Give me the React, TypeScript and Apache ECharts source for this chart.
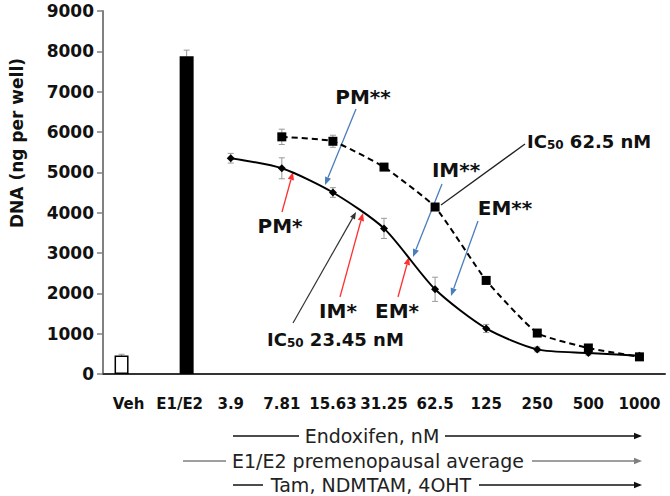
import React, { useEffect, useRef } from "react";
import * as echarts from "echarts";

const categories = ["Veh", "E1/E2", "3.9", "7.81", "15.63", "31.25", "62.5", "125", "250", "500", "1000"];
const vehValue = 460;
const vehError = 30;
const e2Value = 7880;
const e2Error = 150;
// concentrations 3.9 .. 1000
const doseCategories = ["3.9", "7.81", "15.63", "31.25", "62.5", "125", "250", "500", "1000"];
const solidValues = [5350, 5100, 4500, 3610, 2100, 1130, 610, 520, 450];
const solidErrors = [120, 260, 120, 250, 300, 100, 60, 50, 40];
const dashedValues = [null, 5880, 5770, 5130, 4140, 2320, 1015, 645, 425];
const dashedErrors = [0, 190, 150, 60, 80, 80, 50, 40, 40];
const yTicks = { min: 0, max: 9000, interval: 1000 };

const FF = "DejaVu Sans";
const BLUE = "#4a7ebb";
const RED = "#ff3030";

function arrow(x1: number, y1: number, x2: number, y2: number, color: string, head = 8, width = 1.3) {
  const ang = Math.atan2(y2 - y1, x2 - x1);
  const hx = x2 - head * Math.cos(ang);
  const hy = y2 - head * Math.sin(ang);
  const px = -Math.sin(ang) * head * 0.4;
  const py = Math.cos(ang) * head * 0.4;
  return [
    { type: "line", shape: { x1, y1, x2: hx, y2: hy }, style: { stroke: color, lineWidth: width }, silent: true },
    { type: "polygon", shape: { points: [[x2, y2], [hx + px, hy + py], [hx - px, hy - py]] }, style: { fill: color }, silent: true },
  ];
}

function label(text: string, x: number, y: number, size = 20) {
  return {
    type: "text", x, y, silent: true,
    style: { text, fill: "#111", fontFamily: FF, fontWeight: "bold", fontSize: size, align: "center", verticalAlign: "middle" },
  };
}

function icLabel(value: string, x: number, y: number) {
  return {
    type: "text", x, y, silent: true,
    style: {
      text: "{a|IC}{b|50}{a| " + value + "}",
      align: "left", verticalAlign: "middle",
      rich: {
        a: { fontFamily: FF, fontWeight: "bold", fontSize: 18, fill: "#111", lineHeight: 20, verticalAlign: "middle" },
        b: { fontFamily: FF, fontWeight: "bold", fontSize: 12, fill: "#111", lineHeight: 12, verticalAlign: "bottom" },
      },
    },
  };
}

function bottomRow(text: string, y: number, cx: number, l1: number, l2: number, r1: number, lineColor: string) {
  return [
    { type: "line", shape: { x1: l1, y1: y, x2: l2, y2: y }, style: { stroke: lineColor, lineWidth: 1.5 }, silent: true },
    { type: "text", x: cx, y, silent: true, style: { text, fill: "#222", fontFamily: FF, fontSize: 19, align: "center", verticalAlign: "middle" } },
    ...arrow(r1, y, 642, y, lineColor, 8, 1.5),
  ];
}

function errorRenderer(offset: number) {
  return (params: any, api: any) => {
    const x = api.value(0);
    const lo = api.coord([x, api.value(1)]);
    const hi = api.coord([x, api.value(2)]);
    const cx = lo[0] + offset;
    const w = 3;
    const st = { stroke: "#9a9a9a", lineWidth: 1 };
    return {
      type: "group",
      children: [
        { type: "line", shape: { x1: cx, y1: hi[1], x2: cx, y2: lo[1] }, style: st },
        { type: "line", shape: { x1: cx - w, y1: hi[1], x2: cx + w, y2: hi[1] }, style: st },
        { type: "line", shape: { x1: cx - w, y1: lo[1], x2: cx + w, y2: lo[1] }, style: st },
      ],
    };
  };
}

export default function App() {
  const ref = useRef<HTMLDivElement>(null);
  useEffect(() => {
    document.body.style.margin = "0";
    const chart = echarts.init(ref.current!, null, { renderer: "svg" });
    const pad = (arr: any[]) => ["-", "-", ...arr.map((v) => (v == null ? "-" : v))];
    const solidErrData = doseCategories.map((c, i) => [c, solidValues[i] - solidErrors[i], solidValues[i] + solidErrors[i]]);
    const dashedErrData = doseCategories
      .map((c, i) => (dashedValues[i] == null ? null : [c, (dashedValues[i] as number) - dashedErrors[i], (dashedValues[i] as number) + dashedErrors[i]]))
      .filter((d) => d && d[2] - d[1] > 0) as any[];

    chart.setOption({
      animation: false,
      grid: { left: 103, right: 5, top: 11, bottom: 122 },
      xAxis: {
        type: "category",
        data: categories,
        boundaryGap: true,
        axisLine: { lineStyle: { color: "#333", width: 2 } },
        axisTick: { alignWithLabel: true, length: 4, lineStyle: { color: "#333", width: 1.5 } },
        axisLabel: { interval: 0, color: "#111", fontFamily: FF, fontWeight: "bold", fontSize: 15, margin: 22 },
      },
      yAxis: {
        type: "value",
        min: yTicks.min, max: yTicks.max, interval: yTicks.interval,
        axisLine: { show: true, lineStyle: { color: "#808080", width: 2 } },
        axisTick: { show: true, length: 6, lineStyle: { color: "#808080", width: 1.5 } },
        splitLine: { show: false },
        axisLabel: { color: "#111", fontFamily: FF, fontWeight: "bold", fontSize: 17, margin: 9, formatter: (v: number) => String(v) },
      },
      series: [
        {
          type: "bar", name: "Veh", barWidth: 14, barGap: "0%",
          data: [vehValue, ...Array(categories.length - 1).fill("-")],
          itemStyle: { color: "#fff", borderColor: "#000", borderWidth: 1.5 },
        },
        {
          type: "bar", name: "E1/E2", barWidth: 14, barGap: "0%",
          data: ["-", e2Value, ...Array(categories.length - 2).fill("-")],
          itemStyle: { color: "#000" },
        },
        {
          type: "custom", z: 1, renderItem: errorRenderer(-7),
          data: [["Veh", vehValue - vehError, vehValue + vehError]],
        },
        {
          type: "custom", z: 1, renderItem: errorRenderer(7),
          data: [["E1/E2", e2Value - e2Error, e2Value + e2Error]],
        },
        { type: "custom", z: 1, renderItem: errorRenderer(0), data: solidErrData },
        { type: "custom", z: 1, renderItem: errorRenderer(0), data: dashedErrData },
        {
          type: "line", name: "solid", z: 3, smooth: 0.25,
          data: pad(solidValues),
          symbol: "diamond", symbolSize: 8,
          itemStyle: { color: "#000" },
          lineStyle: { color: "#000", width: 2 },
        },
        {
          type: "line", name: "dashed", z: 3, smooth: 0.15, connectNulls: false,
          data: pad(dashedValues),
          symbol: "rect", symbolSize: 9,
          itemStyle: { color: "#000" },
          lineStyle: { color: "#000", width: 2, type: [6, 4] },
        },
      ],
      graphic: [
        {
          type: "text", x: 17, y: 143, rotation: Math.PI / 2, silent: true,
          style: { text: "DNA (ng per well)", fill: "#111", fontFamily: FF, fontWeight: "bold", fontSize: 17, align: "center", verticalAlign: "middle" },
        },
        label("PM**", 363, 97),
        ...arrow(356, 109, 325, 185, BLUE),
        label("PM*", 280, 226),
        ...arrow(282, 212, 293, 172, RED),
        label("IM**", 456, 170),
        ...arrow(442, 184, 413, 257, BLUE),
        label("EM**", 505, 208),
        ...arrow(478, 221, 451, 296, BLUE),
        icLabel("62.5 nM", 527, 141),
        { type: "line", shape: { x1: 525, y1: 144, x2: 441, y2: 205 }, style: { stroke: "#222", lineWidth: 1.3 }, silent: true },
        label("IM*", 338, 311),
        ...arrow(340, 297, 363, 213, RED),
        label("EM*", 397, 311),
        ...arrow(398, 297, 409, 257, RED),
        icLabel("23.45 nM", 267, 339),
        ...arrow(293, 323, 356, 212, "#333", 7, 1.2),
        ...bottomRow("Endoxifen, nM", 436, 372, 233, 299, 445, "#111"),
        ...bottomRow("E1/E2 premenopausal average", 461, 378, 183, 226, 532, "#7f7f7f"),
        ...bottomRow("Tam, NDMTAM, 4OHT", 485, 371, 233, 263, 479, "#111"),
      ],
    });
    return () => chart.dispose();
  }, []);
  return <div ref={ref} style={{ width: 670, height: 496 }} />;
}
